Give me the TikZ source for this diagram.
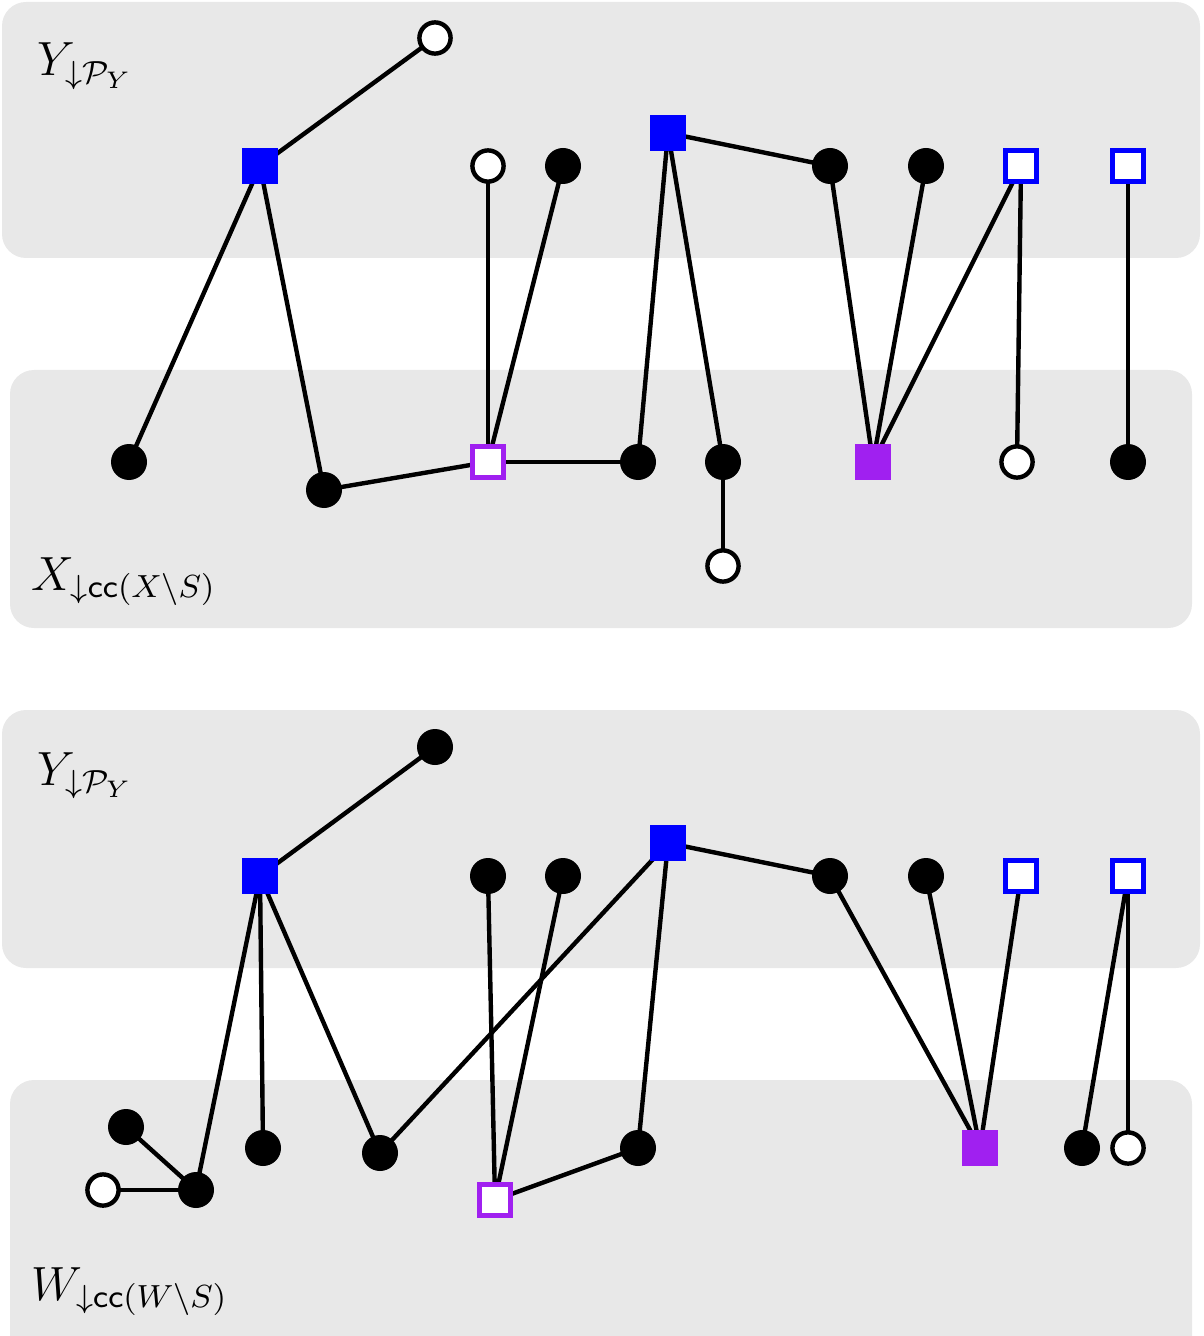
\documentclass[tikz,border=0pt]{standalone}
\usepackage{amsmath}
\begin{document}
\begin{tikzpicture}[x=0.25pt,y=-0.25pt,
  panel/.style={fill=panelgray,draw=none,rounded corners=6pt},
  bdot/.style={circle,fill=black,draw=none,minimum size=9pt,inner sep=0pt},
  wdot/.style={circle,fill=white,draw=black,line width=1.1pt,minimum size=7.8pt,inner sep=0pt},
  bsq/.style={rectangle,fill=pblue,draw=none,minimum size=9pt,inner sep=0pt},
  psq/.style={rectangle,fill=ppurple,draw=none,minimum size=9pt,inner sep=0pt},
  obsq/.style={rectangle,fill=white,draw=pblue,line width=1.2pt,minimum size=7.6pt,inner sep=0pt},
  opsq/.style={rectangle,fill=white,draw=ppurple,line width=1.2pt,minimum size=7.6pt,inner sep=0pt},
  edge/.style={draw=black,line width=1.1pt},
  lab/.style={anchor=base west,inner sep=0pt,font=\fontsize{11.6}{14}\selectfont}]
\definecolor{panelgray}{RGB}{232,232,232}
\definecolor{pblue}{RGB}{0,0,255}
\definecolor{ppurple}{RGB}{160,32,240}
\useasboundingbox (0,0) rectangle (1203,1336);
% panels
\fill[panel] (2,2) rectangle (1200,258);
\fill[panel] (10,370) rectangle (1192,628);
\fill[panel] (2,710) rectangle (1200,968);
\fill[panel] (10,1080) rectangle (1192,1360);
% labels
\node[lab] (l1) at (37,76) {$Y_{\downarrow\mathcal{P}_Y}$};
\node[lab] (l2) at (31,590) {$X_{\downarrow\mathsf{cc}(X\setminus S)}$};
\node[lab] (l3) at (31,1300) {$W_{\downarrow\mathsf{cc}(W\setminus S)}$};
\node[lab] (l4) at (37,785) {$Y_{\downarrow\mathcal{P}_Y}$};
% ---------- top diagram ----------
\coordinate (ta1) at (435,38);
\coordinate (tB1) at (260,166);
\coordinate (ta2) at (488,166);
\coordinate (ta3) at (563,166);
\coordinate (tB2) at (668,133);
\coordinate (ta4) at (830,166);
\coordinate (ta5) at (926,166);
\coordinate (tb1) at (1021,166);
\coordinate (tb2) at (1128,166);
\coordinate (tx1) at (129,462);
\coordinate (tx2) at (324,490);
\coordinate (tP1) at (488,462);
\coordinate (tx3) at (638,462);
\coordinate (tx4) at (723,462);
\coordinate (tx5) at (723,566);
\coordinate (tP2) at (873,462);
\coordinate (tx6) at (1017,462);
\coordinate (tx7) at (1128,462);
\draw[edge] (tB1) -- (ta1);
\draw[edge] (tB1) -- (tx1);
\draw[edge] (tB1) -- (tx2);
\draw[edge] (tx2) -- (tP1);
\draw[edge] (tP1) -- (ta2);
\draw[edge] (tP1) -- (ta3);
\draw[edge] (tP1) -- (tx3);
\draw[edge] (tx3) -- (tB2);
\draw[edge] (tB2) -- (tx4);
\draw[edge] (tB2) -- (ta4);
\draw[edge] (tx4) -- (tx5);
\draw[edge] (ta4) -- (tP2);
\draw[edge] (ta5) -- (tP2);
\draw[edge] (tb1) -- (tP2);
\draw[edge] (tb1) -- (tx6);
\draw[edge] (tb2) -- (tx7);
\node[wdot] (nta1) at (ta1) {};
\node[bsq] (ntB1) at (tB1) {};
\node[wdot] (nta2) at (ta2) {};
\node[bdot] (nta3) at (ta3) {};
\node[bsq] (ntB2) at (tB2) {};
\node[bdot] (nta4) at (ta4) {};
\node[bdot] (nta5) at (ta5) {};
\node[obsq] (ntb1) at (tb1) {};
\node[obsq] (ntb2) at (tb2) {};
\node[bdot] (ntx1) at (tx1) {};
\node[bdot] (ntx2) at (tx2) {};
\node[opsq] (ntP1) at (tP1) {};
\node[bdot] (ntx3) at (tx3) {};
\node[bdot] (ntx4) at (tx4) {};
\node[wdot] (ntx5) at (tx5) {};
\node[psq] (ntP2) at (tP2) {};
\node[wdot] (ntx6) at (tx6) {};
\node[bdot] (ntx7) at (tx7) {};
% ---------- bottom diagram ----------
\coordinate (ba1) at (435,747);
\coordinate (bB1) at (260,876);
\coordinate (ba2) at (488,876);
\coordinate (ba3) at (563,876);
\coordinate (bB2) at (668,843);
\coordinate (ba4) at (830,876);
\coordinate (ba5) at (926,876);
\coordinate (bb1) at (1021,876);
\coordinate (bb2) at (1128,876);
\coordinate (bw1) at (126,1127);
\coordinate (bw2) at (103,1190);
\coordinate (bw3) at (196,1190);
\coordinate (bw4) at (263,1148);
\coordinate (bw5) at (380,1153);
\coordinate (bP1) at (495,1200);
\coordinate (bw6) at (638,1148);
\coordinate (bP2) at (980,1148);
\coordinate (bw7) at (1082,1148);
\coordinate (bw8) at (1128,1148);
\draw[edge] (bB1) -- (ba1);
\draw[edge] (bB1) -- (bw3);
\draw[edge] (bB1) -- (bw4);
\draw[edge] (bB1) -- (bw5);
\draw[edge] (bw1) -- (bw3);
\draw[edge] (bw2) -- (bw3);
\draw[edge] (bw5) -- (bB2);
\draw[edge] (bB2) -- (ba4);
\draw[edge] (bB2) -- (bw6);
\draw[edge] (bw6) -- (bP1);
\draw[edge] (bP1) -- (ba2);
\draw[edge] (bP1) -- (ba3);
\draw[edge] (ba4) -- (bP2);
\draw[edge] (ba5) -- (bP2);
\draw[edge] (bb1) -- (bP2);
\draw[edge] (bb2) -- (bw7);
\draw[edge] (bb2) -- (bw8);
\node[bdot] (nba1) at (ba1) {};
\node[bsq] (nbB1) at (bB1) {};
\node[bdot] (nba2) at (ba2) {};
\node[bdot] (nba3) at (ba3) {};
\node[bsq] (nbB2) at (bB2) {};
\node[bdot] (nba4) at (ba4) {};
\node[bdot] (nba5) at (ba5) {};
\node[obsq] (nbb1) at (bb1) {};
\node[obsq] (nbb2) at (bb2) {};
\node[bdot] (nbw1) at (bw1) {};
\node[wdot] (nbw2) at (bw2) {};
\node[bdot] (nbw3) at (bw3) {};
\node[bdot] (nbw4) at (bw4) {};
\node[bdot] (nbw5) at (bw5) {};
\node[opsq] (nbP1) at (bP1) {};
\node[bdot] (nbw6) at (bw6) {};
\node[psq] (nbP2) at (bP2) {};
\node[bdot] (nbw7) at (bw7) {};
\node[wdot] (nbw8) at (bw8) {};
\end{tikzpicture}
\end{document}
